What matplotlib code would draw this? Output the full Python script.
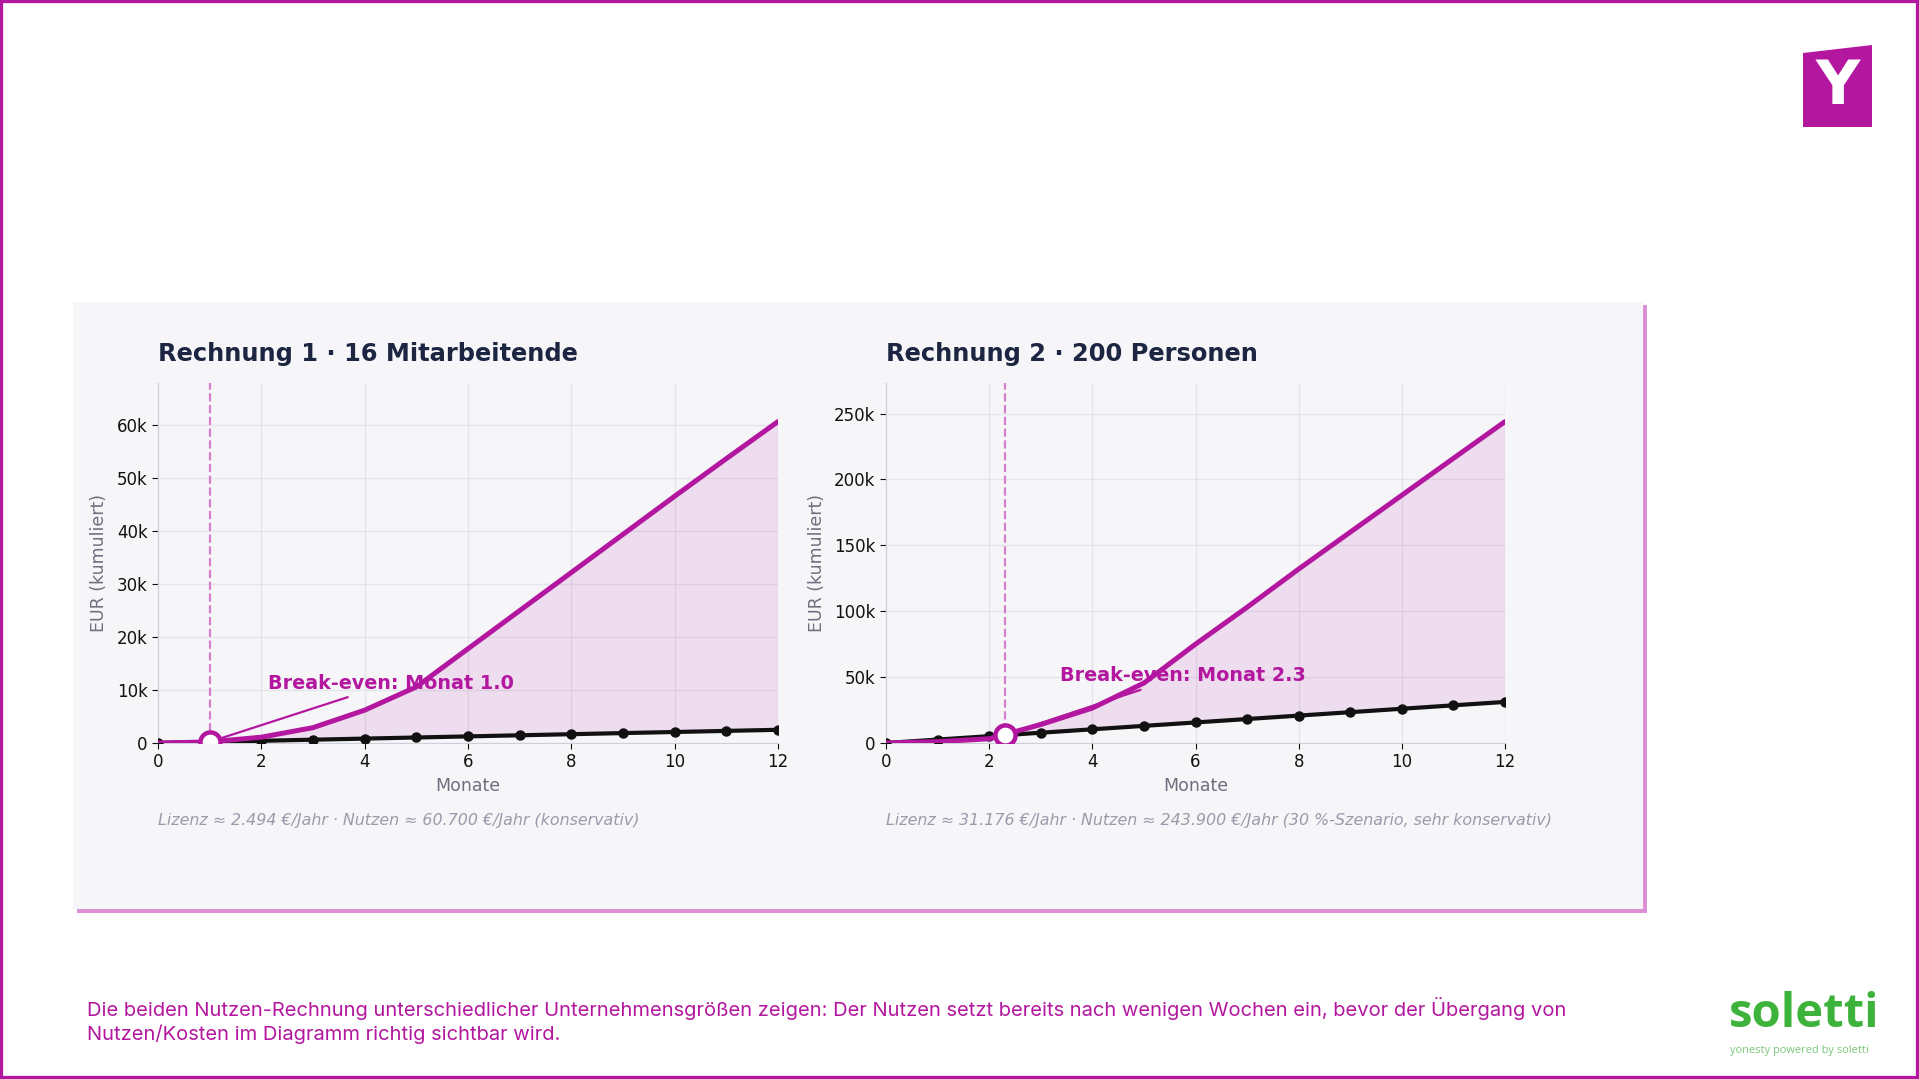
import matplotlib
matplotlib.use("Agg")
import matplotlib.pyplot as plt
from matplotlib.patches import Rectangle, Polygon
from matplotlib.ticker import FuncFormatter
import numpy as np

W, H = 1919, 1079
MAGENTA = "#b3179f"
DASH = "#d67fcf"
NAVY = "#1c2541"
GREY = "#6e6e7e"
CARD = "#f6f6f9"
GREEN = "#3db33c"

months = list(range(13))

# Rechnung 1 - 16 Mitarbeitende (EUR kumuliert)
kosten_1 = [0, 208, 416, 624, 831, 1039, 1247, 1455, 1663, 1871, 2078, 2286, 2494]
nutzen_1 = [0, 200, 1100, 2900, 6200, 10600, 17800, 25000, 32200, 39400, 46600, 53700, 60700]
break_even_1 = 1.0

# Rechnung 2 - 200 Personen
kosten_2 = [0, 2598, 5196, 7794, 10392, 12990, 15588, 18186, 20784, 23382, 25980, 28578, 31176]
nutzen_2 = [0, 1000, 3200, 14000, 26500, 45500, 75000, 103000, 132000, 160000, 188000, 216000, 243900]
break_even_2 = 2.3

titles = ["Rechnung 1 · 16 Mitarbeitende", "Rechnung 2 · 200 Personen"]
captions = ["Lizenz ≈ 2.494 €/Jahr · Nutzen ≈ 60.700 €/Jahr (konservativ)",
            "Lizenz ≈ 31.176 €/Jahr · Nutzen ≈ 243.900 €/Jahr (30 %-Szenario, sehr konservativ)"]
label_pos = [(2.13, 11300), (3.37, 51000)]

footer = ["Die beiden Nutzen-Rechnung unterschiedlicher Unternehmensgrößen zeigen: Der Nutzen setzt bereits nach wenigen Wochen ein, bevor der Übergang von",
          "Nutzen/Kosten im Diagramm richtig sichtbar wird."]


def px(x, y):
    # pixel coords (top-left origin) -> figure fraction
    return x / W, 1 - y / H


def kfmt(v, pos):
    return "0" if v == 0 else f"{v / 1000:.0f}k"


fig = plt.figure(figsize=(W / 100, H / 100), dpi=100)
fig.patch.set_facecolor("white")

# card with pink shadow
x0, y0 = px(77, 913)
fig.add_artist(Rectangle((x0, y0), (1647 - 77) / W, (913 - 305) / H, transform=fig.transFigure,
                         facecolor="#dc8fd4", edgecolor="none", zorder=-3))
x0, y0 = px(73, 909)
fig.add_artist(Rectangle((x0, y0), (1643 - 73) / W, (909 - 302) / H, transform=fig.transFigure,
                         facecolor=CARD, edgecolor="none", zorder=-2))

axes_px = [(158, 620), (886, 619)]
data = [(kosten_1, nutzen_1, break_even_1), (kosten_2, nutzen_2, break_even_2)]

for i, (left, width) in enumerate(axes_px):
    kosten, nutzen, be = data[i]
    ax = fig.add_axes([left / W, 1 - 743 / H, width / W, 360 / H])
    ax.set_facecolor("none")
    k = np.array(kosten)
    n = np.array(nutzen)

    ax.fill_between(months, k, n, where=n >= k, interpolate=True, color=MAGENTA, alpha=0.11, lw=0, zorder=1)
    ax.axvline(be, color=DASH, ls="--", lw=1.6, zorder=1.5)
    ax.plot(months, kosten, color="#111111", lw=3, marker="o", ms=6.5, zorder=3)
    ax.plot(months, nutzen, color=MAGENTA, lw=3.6, zorder=4, solid_capstyle="round")

    y_be = np.interp(be, months, kosten)
    ax.annotate(f"Break-even: Monat {be:.1f}", xy=(be, y_be), xytext=label_pos[i],
                ha="left", va="center", fontsize=13.8, fontweight="bold", color=MAGENTA,
                arrowprops=dict(arrowstyle="-", color=MAGENTA, lw=1.6, shrinkA=4, shrinkB=0),
                zorder=5)
    ax.plot([be], [y_be], marker="o", ms=14.5, mfc="white", mec=MAGENTA, mew=3.2, zorder=6)

    ax.set_xlim(0, 12)
    ax.set_ylim(0, max(nutzen) * 1.12)
    ax.set_xticks(range(0, 13, 2))
    ax.yaxis.set_major_formatter(FuncFormatter(kfmt))
    ax.grid(True, color="#e4e4ea", lw=1)
    ax.set_axisbelow(True)
    for s in ["top", "right"]:
        ax.spines[s].set_visible(False)
    for s in ["left", "bottom"]:
        ax.spines[s].set_color("#cfcfd8")
    ax.tick_params(labelsize=12, colors="#111111", length=4)
    ax.set_xlabel("Monate", fontsize=12.5, color=GREY, labelpad=4)
    ax.set_ylabel("EUR (kumuliert)", fontsize=12.5, color=GREY, labelpad=6)
    ax.set_title(titles[i], loc="left", fontsize=17.4, fontweight="bold", color=NAVY, pad=16)

    cx, cy = px(left, 821)
    fig.text(cx, cy, captions[i], fontsize=11.4, style="italic", color="#9a9aaa", va="center")

# footer text
for j, line in enumerate(footer):
    tx, ty = px(87, 1008 + j * 26)
    fig.text(tx, ty, line, fontsize=14.5, color=MAGENTA, va="center", family="Inter")

# Y logo
logo = [px(1803, 53), px(1872, 45), px(1872, 127), px(1803, 127)]
fig.add_artist(Polygon(logo, closed=True, transform=fig.transFigure, facecolor=MAGENTA, edgecolor="none"))
lx, ly = px(1838, 88)
fig.text(lx, ly, "Y", fontsize=44, fontweight="bold", color="white", ha="center", va="center")

# soletti logo
sx, sy = px(1729, 1027)
fig.text(sx, sy, "soletti", fontsize=34, fontweight="bold", color=GREEN, family="Open Sans",
         va="baseline")
sx, sy = px(1730, 1051)
fig.text(sx, sy, "yonesty powered by soletti", fontsize=7.9, color="#7dc67a", family="Open Sans",
         va="center")

# frame
fig.add_artist(Rectangle((0, 0), 1, 1, transform=fig.transFigure, fill=False,
                         edgecolor=MAGENTA, lw=4.5, zorder=10))

fig.savefig("out.png", dpi=100)
